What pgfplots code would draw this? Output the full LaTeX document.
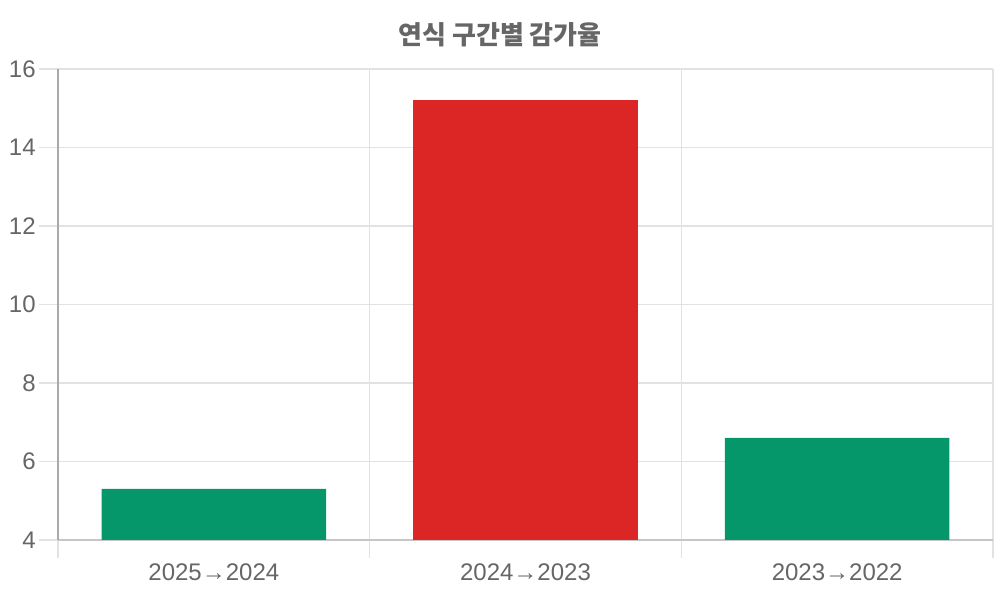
\documentclass[border=0pt]{standalone}
\usepackage{fontspec}
\setmainfont{Liberation Sans}
\newfontfamily\cjk{Noto Sans CJK KR}
\usepackage{pgfplots}
\pgfplotsset{compat=1.18}

\definecolor{txtgray}{HTML}{666666}
\definecolor{gridgray}{HTML}{E2E2E2}
\definecolor{axgray}{HTML}{AAAAAA}
\definecolor{barGreen}{HTML}{059669}
\definecolor{barRed}{HTML}{DC2626}

\begin{document}
\begin{tikzpicture}[x=1pt,y=1pt]
  % 1 px = 0.75 pt, page 1000x600 px
  \useasboundingbox (0,0) rectangle (750,450);
  \node[font=\cjk\bfseries\fontsize{19.5}{22}\selectfont, text=txtgray] at (375,424) {연식 구간별 감가율};

  \begin{axis}[
      at={(43.5pt,45pt)}, anchor=south west,
      scale only axis,
      width=701.25pt, height=353.25pt,
      ybar, bar shift=0pt, bar width=0.72,
      xmin=-0.5, xmax=2.5,
      ymin=4, ymax=16,
      ytick={4,6,...,16},
      xtick={0,1,2},
      xticklabels={2025→2024, 2024→2023, 2023→2022},
      minor xtick={-0.5,0.5,1.5,2.5},
      xminorgrids, ymajorgrids,
      grid style={draw=gridgray, line width=0.9pt},
      minor grid style={draw=gridgray, line width=0.9pt},
      axis lines=left,
      axis line style={-},
      tick align=outside,
      major tick length=14.25pt,
      minor tick length=13.5pt,
      major x tick style={draw=none},
      minor x tick style={draw=gridgray, line width=0.9pt},
      major y tick style={draw=gridgray, line width=0.9pt},
      x axis line style={draw=gray!45, line width=0.9pt},
      y axis line style={draw=axgray, line width=0.9pt},
      ticklabel style={text=txtgray, font=\fontsize{18}{21}\selectfont},
      /pgf/number format/assume math mode=true,
      yticklabel style={xshift=1pt},
      xticklabel style={yshift=0pt},
    ]
    \addplot[fill=barGreen, draw=none] coordinates {(0,5.3) (2,6.6)};
    \addplot[fill=barRed, draw=none] coordinates {(1,15.2)};
  \end{axis}
\end{tikzpicture}
\end{document}
